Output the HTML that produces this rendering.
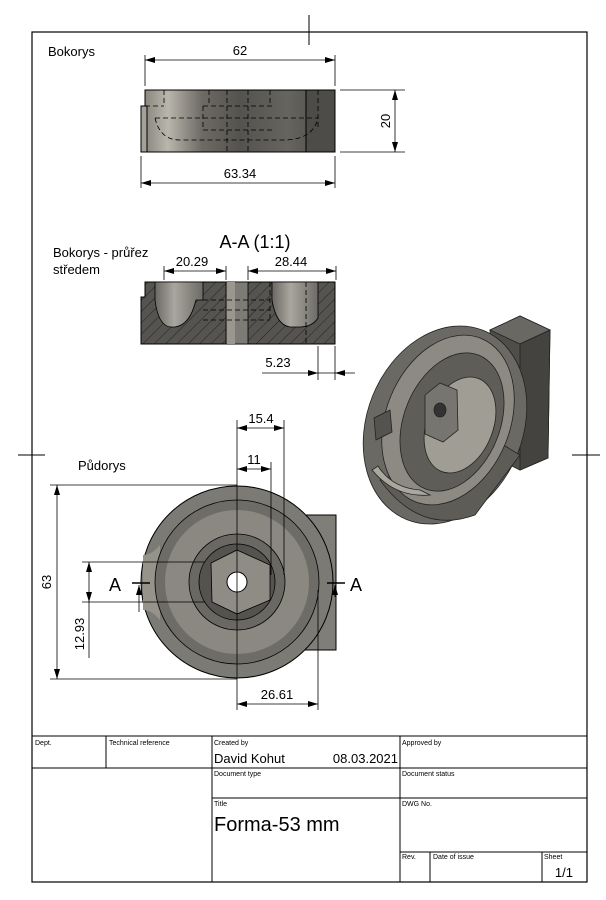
<!DOCTYPE html>
<html><head><meta charset="utf-8"><style>
html,body{margin:0;padding:0;background:#fff}
svg{display:block}
text{font-family:"Liberation Sans",sans-serif;fill:#000}
</style></head><body>
<svg width="606" height="900" viewBox="0 0 606 900" xmlns="http://www.w3.org/2000/svg">
<defs>
<linearGradient id="gh" x1="0" x2="1" y1="0" y2="0">
<stop offset="0" stop-color="#8a877f"/><stop offset="0.12" stop-color="#b9b6ad"/><stop offset="0.3" stop-color="#6d6a64"/><stop offset="0.5" stop-color="#55534f"/><stop offset="0.75" stop-color="#66645f"/><stop offset="1" stop-color="#4a4946"/>
</linearGradient>
<linearGradient id="cav" x1="0" x2="1"><stop offset="0" stop-color="#6a6863"/><stop offset="0.4" stop-color="#a9a69e"/><stop offset="1" stop-color="#6d6b66"/></linearGradient>
<pattern id="hatch" width="8" height="8" patternUnits="userSpaceOnUse" patternTransform="rotate(45)">
<rect width="8" height="8" fill="#555451"/><line x1="0" y1="0" x2="0" y2="8" stroke="#222" stroke-width="1"/>
</pattern>
<marker id="ar" viewBox="0 0 10 6" refX="10" refY="3" markerWidth="10" markerHeight="6" orient="auto-start-reverse" markerUnits="userSpaceOnUse"><path d="M0,0L10,3L0,6z" fill="#000"/></marker>
</defs>

<rect x="32" y="32" width="555" height="850" fill="none" stroke="#000" stroke-width="1.2"/>
<g stroke="#000" stroke-width="1">
<line x1="309" y1="15" x2="309" y2="45"/>
<line x1="18" y1="455" x2="45" y2="455"/>
<line x1="572" y1="455" x2="600" y2="455"/>
</g>

<!-- Top view -->
<text x="48" y="56" font-size="13">Bokorys</text>
<rect x="145" y="90" width="190" height="62" fill="url(#gh)" stroke="#000"/>
<rect x="141" y="106" width="6" height="46" fill="#a4a198" stroke="#000"/>
<rect x="306" y="90" width="29" height="62" fill="#4d4c49" stroke="#000"/>
<g stroke="#000" stroke-width="0.8" stroke-dasharray="5,3" fill="none">
<line x1="164" y1="90" x2="164" y2="106"/><line x1="145" y1="106" x2="164" y2="106"/>
<line x1="209" y1="90" x2="209" y2="106"/><line x1="270" y1="90" x2="270" y2="106"/>
<line x1="227" y1="90" x2="227" y2="152"/><line x1="248" y1="90" x2="248" y2="152"/>
<line x1="203" y1="106" x2="272" y2="106"/>
<line x1="203" y1="106" x2="203" y2="130"/>
<line x1="155" y1="118" x2="318" y2="118"/>
<line x1="203" y1="130" x2="272" y2="130"/>
<path d="M155,118 Q160,140 180,140 L283,140 Q313,140 318,118"/>
<line x1="318" y1="90" x2="318" y2="130"/>
</g>
<g stroke="#000" stroke-width="0.8" fill="none">
<line x1="145" y1="55" x2="145" y2="86"/><line x1="335" y1="55" x2="335" y2="86"/>
<line x1="145" y1="60" x2="335" y2="60" marker-start="url(#ar)" marker-end="url(#ar)"/>
<line x1="340" y1="90" x2="405" y2="90"/><line x1="340" y1="152" x2="405" y2="152"/>
<line x1="395" y1="90" x2="395" y2="152" marker-start="url(#ar)" marker-end="url(#ar)"/>
<line x1="141" y1="156" x2="141" y2="188"/><line x1="335" y1="156" x2="335" y2="188"/>
<line x1="141" y1="183" x2="335" y2="183" marker-start="url(#ar)" marker-end="url(#ar)"/>
</g>
<text x="240" y="55" font-size="13" text-anchor="middle">62</text>
<text x="240" y="178" font-size="13" text-anchor="middle">63.34</text>
<text transform="translate(390,121) rotate(-90)" font-size="13" text-anchor="middle">20</text>

<!-- Section -->
<text x="53" y="257" font-size="13">Bokorys - průřez</text>
<text x="53" y="274" font-size="13">středem</text>
<text x="255" y="248" font-size="18" text-anchor="middle">A-A (1:1)</text>
<path d="M145,282 L335,282 L335,344 L141,344 L141,297 L145,297 Z" fill="url(#hatch)" stroke="#000"/>
<path d="M155,282 L203,282 L203,300 L196,300 Q190,325 175,327 L170,327 Q158,325 155,300 Z" fill="url(#cav)" stroke="#000" stroke-width="0.8"/>
<path d="M272,282 L318,282 L318,318 Q312,327 300,327 L290,327 Q276,325 272,300 Z" fill="url(#cav)" stroke="#000" stroke-width="0.8"/>
<rect x="226" y="282" width="22" height="62" fill="#7d7b75" stroke="#000" stroke-width="0.8"/>
<rect x="227" y="282" width="8" height="62" fill="#9a978f"/>
<g stroke="#000" stroke-width="0.8" stroke-dasharray="5,3" fill="none">
<line x1="203" y1="300" x2="270" y2="300"/><line x1="203" y1="310" x2="270" y2="310"/><line x1="203" y1="320" x2="270" y2="320"/>
<line x1="270" y1="282" x2="270" y2="320"/><line x1="306" y1="282" x2="306" y2="344"/>
</g>
<g stroke="#000" stroke-width="0.8" fill="none">
<line x1="164" y1="266" x2="164" y2="280"/><line x1="226" y1="266" x2="226" y2="280"/><line x1="248" y1="266" x2="248" y2="280"/><line x1="336" y1="266" x2="336" y2="280"/>
<line x1="164" y1="271" x2="226" y2="271" marker-start="url(#ar)" marker-end="url(#ar)"/>
<line x1="248" y1="271" x2="336" y2="271" marker-start="url(#ar)" marker-end="url(#ar)"/>
<line x1="318" y1="346" x2="318" y2="380"/><line x1="335" y1="346" x2="335" y2="380"/>
<line x1="262" y1="373" x2="318" y2="373" marker-end="url(#ar)"/>
<line x1="355" y1="373" x2="335" y2="373" marker-end="url(#ar)"/>
<line x1="318" y1="373" x2="335" y2="373"/>
</g>
<text x="192" y="266" font-size="13" text-anchor="middle">20.29</text>
<text x="291" y="266" font-size="13" text-anchor="middle">28.44</text>
<text x="278" y="367" font-size="13" text-anchor="middle">5.23</text>

<!-- Iso -->
<g stroke="#222" stroke-width="0.8">
<polygon points="490,330 520,316 550,330 548,458 520,470 490,455" fill="#4f4e4a"/>
<polygon points="490,330 520,316 550,330 520,344" fill="#6a6863"/>
<polygon points="520,344 550,330 548,458 520,470" fill="#44433f"/>
<ellipse cx="445" cy="425" rx="78" ry="102" transform="rotate(22 445 425)" fill="#6b6964"/>
<path d="M380,480 Q420,535 475,515 L520,455 L495,440 Z" fill="#5e5c57"/>
<ellipse cx="448" cy="420" rx="62" ry="88" transform="rotate(22 448 420)" fill="#8c8a83"/>
<ellipse cx="452" cy="422" rx="48" ry="72" transform="rotate(22 452 422)" fill="#5f5d58"/>
<ellipse cx="460" cy="425" rx="33" ry="50" transform="rotate(22 460 425)" fill="#a09d95"/>
<polygon points="425,395 440,383 457,390 458,430 443,442 425,434" fill="#777570"/>
<ellipse cx="440" cy="410" rx="6" ry="7" fill="#333"/>
<polygon points="374,418 390,410 392,432 376,440" fill="#55534f"/>
<path d="M372,470 Q395,498 430,495 L420,490 Q392,488 378,466 Z" fill="#aaa79f"/>
</g>

<!-- Plan view -->
<text x="78" y="470" font-size="13">Půdorys</text>
<path d="M300,515 L336,515 L336,650 L300,650 Z" fill="#807e78" stroke="#000"/>
<circle cx="237" cy="582" r="96" fill="#7c7a74" stroke="#000"/>
<path d="M143,555 Q152,555 160,545 L160,620 Q152,610 143,610 Z" fill="#96938b"/>
<circle cx="237" cy="582" r="82" fill="#6e6c67" stroke="#000" stroke-width="0.8"/>
<circle cx="237" cy="582" r="72" fill="#8a8881"/>
<circle cx="237" cy="582" r="48" fill="#6a6863" stroke="#000" stroke-width="0.8"/>
<circle cx="237" cy="582" r="38" fill="#55534f" stroke="#000" stroke-width="0.8"/>
<polygon points="237,550 270,565 270,600 237,614 212,602 211,563" fill="#8f8c85" stroke="#000" stroke-width="0.8"/>
<circle cx="237" cy="582" r="10" fill="#fff" stroke="#000"/>
<g stroke="#000" stroke-width="0.8" fill="none">
<line x1="237" y1="420" x2="237" y2="710"/>
<line x1="284" y1="420" x2="284" y2="575"/>
<line x1="271" y1="462" x2="271" y2="575"/>
<line x1="318" y1="590" x2="318" y2="710"/>
<line x1="237" y1="428" x2="284" y2="428" marker-start="url(#ar)" marker-end="url(#ar)"/>
<line x1="237" y1="469" x2="271" y2="469" marker-start="url(#ar)" marker-end="url(#ar)"/>
<line x1="237" y1="704" x2="318" y2="704" marker-start="url(#ar)" marker-end="url(#ar)"/>
<line x1="50" y1="485" x2="237" y2="485"/><line x1="50" y1="679" x2="237" y2="679"/>
<line x1="57" y1="485" x2="57" y2="679" marker-start="url(#ar)" marker-end="url(#ar)"/>
<line x1="82" y1="562" x2="205" y2="562"/><line x1="82" y1="602" x2="205" y2="602"/>
<line x1="89" y1="562" x2="89" y2="602" marker-start="url(#ar)" marker-end="url(#ar)"/>
<line x1="89" y1="602" x2="89" y2="658"/>
</g>
<g stroke="#000" stroke-width="1.5"><line x1="132" y1="583" x2="150" y2="583"/><line x1="327" y1="583" x2="345" y2="583"/></g>
<g stroke="#000" stroke-width="0.8"><line x1="139" y1="612" x2="139" y2="585" marker-end="url(#ar)"/><line x1="335" y1="597" x2="335" y2="585" marker-end="url(#ar)"/></g>
<text x="261" y="423" font-size="13" text-anchor="middle">15.4</text>
<text x="254" y="464" font-size="13" text-anchor="middle">11</text>
<text x="277" y="699" font-size="13" text-anchor="middle">26.61</text>
<text transform="translate(51,582) rotate(-90)" font-size="13" text-anchor="middle">63</text>
<text transform="translate(84,634) rotate(-90)" font-size="13" text-anchor="middle">12.93</text>
<text x="109" y="591" font-size="18">A</text>
<text x="350" y="591" font-size="18">A</text>

<!-- Title block -->
<g stroke="#000" stroke-width="1" fill="none">
<line x1="32" y1="736" x2="587" y2="736"/>
<line x1="32" y1="768" x2="587" y2="768"/>
<line x1="212" y1="798" x2="587" y2="798"/>
<line x1="400" y1="852" x2="587" y2="852"/>
<line x1="106" y1="736" x2="106" y2="768"/>
<line x1="212" y1="736" x2="212" y2="882"/>
<line x1="400" y1="736" x2="400" y2="882"/>
<line x1="430" y1="852" x2="430" y2="882"/>
<line x1="542" y1="852" x2="542" y2="882"/>
</g>
<g font-size="7">
<text x="35" y="745">Dept.</text>
<text x="109" y="745">Technical reference</text>
<text x="214" y="745">Created by</text>
<text x="402" y="745">Approved by</text>
<text x="214" y="776">Document type</text>
<text x="402" y="776">Document status</text>
<text x="214" y="806">Title</text>
<text x="402" y="806">DWG No.</text>
<text x="402" y="859">Rev.</text>
<text x="433" y="859">Date of issue</text>
<text x="544" y="859">Sheet</text>
</g>
<text x="214" y="763" font-size="13">David Kohut</text>
<text x="398" y="763" font-size="13" text-anchor="end">08.03.2021</text>
<text x="214" y="831" font-size="20">Forma-53 mm</text>
<text x="573" y="877" font-size="13" text-anchor="end">1/1</text>
</svg>
</body></html>
